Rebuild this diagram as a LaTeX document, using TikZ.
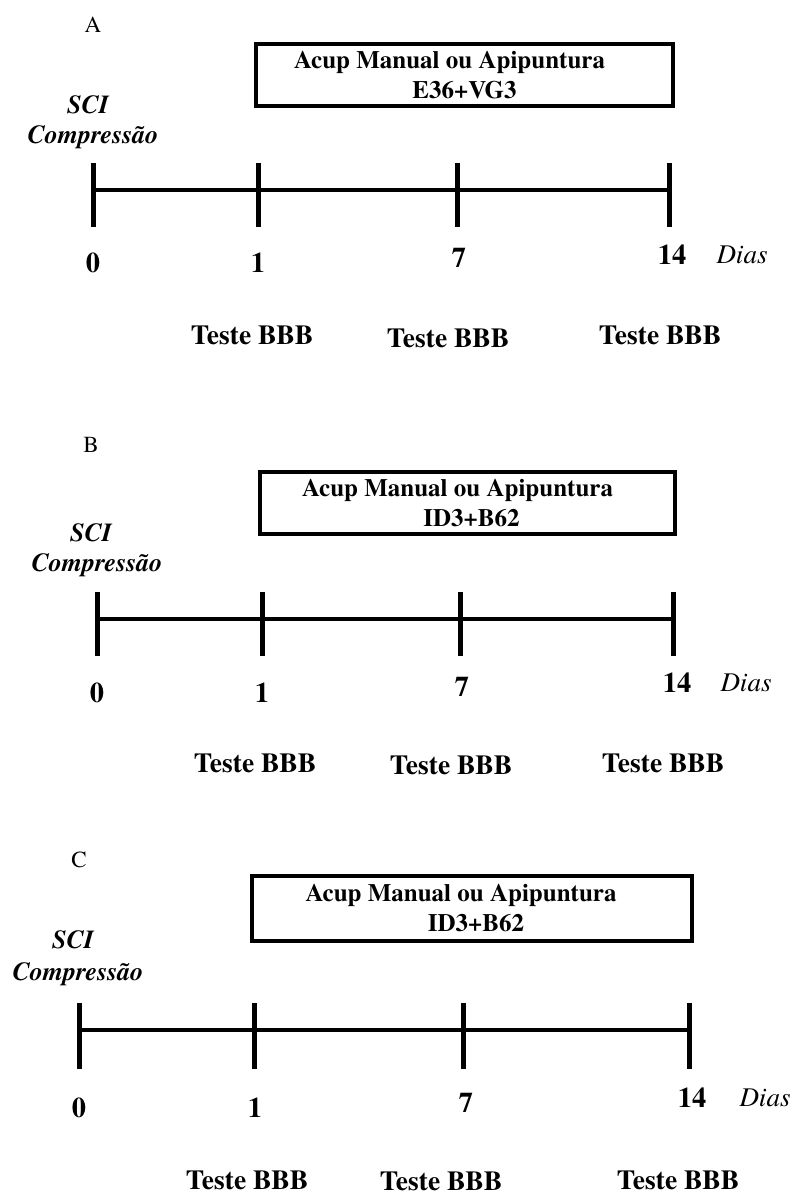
\documentclass[tikz,border=0pt]{standalone}
\usepackage{fontspec}
\setmainfont{texgyretermes}[Extension=.otf,UprightFont=*-regular,BoldFont=*-bold,ItalicFont=*-italic,BoldItalicFont=*-bolditalic]
\usetikzlibrary{positioning}

\begin{document}
\begin{tikzpicture}[x=1pt,y=-1pt,thick,
    big/.style={font=\fontsize{27.5}{30}\selectfont\bfseries,inner sep=0pt},
    num/.style={font=\fontsize{28.5}{30}\selectfont\bfseries,inner sep=0pt},
    panel/.style={font=\fontsize{23}{26}\selectfont,inner sep=0pt},
    sci/.style={font=\fontsize{26}{30}\selectfont\bfseries\itshape,inner sep=0pt},
    dias/.style={font=\fontsize{27}{30}\selectfont\itshape,inner sep=0pt},
    treat/.style={draw,line width=4pt,font=\fontsize{25}{30}\selectfont\bfseries,align=center,inner sep=0pt},
    axis/.style={line width=4pt},
    tick/.style={line width=5pt}]

    \useasboundingbox (0,0) rectangle (796,1195);

    % A
    \node (pA) [panel] at (93,25) {A};
    \node (boxA) [treat,minimum width=417pt,minimum height=62pt] at (464.5,75) {Acup Manual ou Apipuntura\hspace*{30pt}\\E36+VG3};
    \node (sciA) [sci] at (88,105) {SCI};
    \node (compA) [sci] at (93,137) {Compressão};

    \coordinate (a0) at (93,190);
    \coordinate (a1) at (258,190);
    \coordinate (a7) at (457,190);
    \coordinate (a14) at (669,190);

    \draw[axis] (a0) -- (a14);
    \draw[tick] (a0) ++(0,-27) -- ++(0,64);
    \draw[tick] (a1) ++(0,-27) -- ++(0,64);
    \draw[tick] (a7) ++(0,-27) -- ++(0,64);
    \draw[tick] (a14) ++(0,-27) -- ++(0,64);

    \node (na0) [num] at (93,263) {0};
    \node (na1) [num] at (258,263) {1};
    \node (na7) [num] at (459,258) {7};
    \node (na14) [num] at (672,255) {14};
    \node (diasA) [dias] at (742,255) {Dias};

    \node (ta1) [big] at (252,335) {Teste BBB};
    \node (ta7) [big] at (448,338) {Teste BBB};
    \node (ta14) [big] at (660,335) {Teste BBB};

    % B
    \node (pB) [panel] at (91,445) {B};
    \node (boxB) [treat,minimum width=415pt,minimum height=62pt] at (467.5,503) {Acup Manual ou Apipuntura\hspace*{20pt}\\\hspace*{8pt}ID3+B62};
    \node (sciB) [sci] at (91,533) {SCI};
    \node (compB) [sci] at (97,565) {Compressão};

    \coordinate (b0) at (97,619);
    \coordinate (b1) at (262,619);
    \coordinate (b7) at (460,619);
    \coordinate (b14) at (673,619);

    \draw[axis] (b0) -- (b14);
    \draw[tick] (b0) ++(0,-27) -- ++(0,64);
    \draw[tick] (b1) ++(0,-27) -- ++(0,64);
    \draw[tick] (b7) ++(0,-27) -- ++(0,64);
    \draw[tick] (b14) ++(0,-27) -- ++(0,64);

    \node (nb0) [num] at (97,693) {0};
    \node (nb1) [num] at (262,693) {1};
    \node (nb7) [num] at (462,687) {7};
    \node (nb14) [num] at (677,683) {14};
    \node (diasB) [dias] at (746,683) {Dias};

    \node (tb1) [big] at (255,763) {Teste BBB};
    \node (tb7) [big] at (451,765) {Teste BBB};
    \node (tb14) [big] at (663,763) {Teste BBB};

    % C
    \node (pC) [panel] at (79,860) {C};
    \node (boxC) [treat,minimum width=440pt,minimum height=65pt] at (472,908.5) {Acup Manual ou Apipuntura\hspace*{22pt}\\\hspace*{8pt}ID3+B62};
    \node (sciC) [sci] at (73,940) {SCI};
    \node (compC) [sci] at (78,974) {Compressão};

    \coordinate (c0) at (79,1030);
    \coordinate (c1) at (254,1030);
    \coordinate (c7) at (463,1030);
    \coordinate (c14) at (689,1030);

    \draw[axis] (c0) -- (c14);
    \draw[tick] (c0) ++(0,-27) -- ++(0,66);
    \draw[tick] (c1) ++(0,-27) -- ++(0,66);
    \draw[tick] (c7) ++(0,-27) -- ++(0,66);
    \draw[tick] (c14) ++(0,-27) -- ++(0,66);

    \node (nc0) [num] at (79,1108) {0};
    \node (nc1) [num] at (255,1108) {1};
    \node (nc7) [num] at (466,1103) {7};
    \node (nc14) [num] at (692,1098) {14};
    \node (diasC) [dias] at (765,1098) {Dias};

    \node (tc1) [big] at (247,1180) {Teste BBB};
    \node (tc7) [big] at (441,1181) {Teste BBB};
    \node (tc14) [big] at (678,1180) {Teste BBB};
\end{tikzpicture}
\end{document}
